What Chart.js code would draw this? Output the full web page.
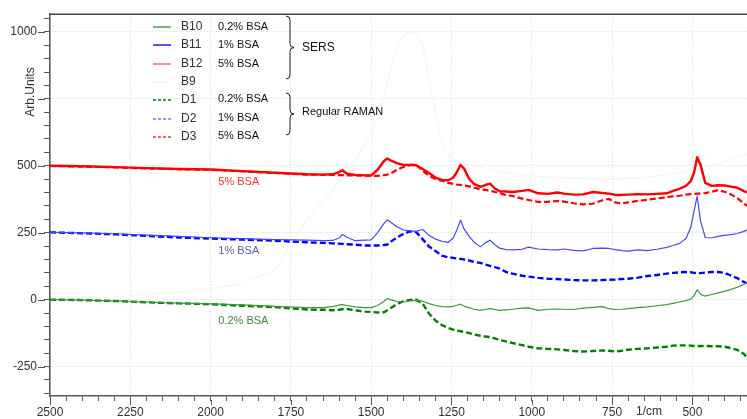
<!DOCTYPE html>
<html>
<head>
<meta charset="utf-8">
<script src="https://cdn.jsdelivr.net/npm/chart.js@4.4.1/dist/chart.umd.min.js"></script>
<style>
  html, body { margin: 0; padding: 0; background: #fff; }
  #wrap { width: 747px; height: 419px; position: relative; }
</style>
</head>
<body>
<div id="wrap"><canvas id="spectra"></canvas></div>
<script>
// Raman shift (1/cm)
const waveNumbers = [2500, 2400, 2300, 2200, 2100, 2000, 1900, 1800,
  1700, 1650, 1620, 1600, 1590, 1575, 1550, 1520, 1500, 1480,
  1460, 1450, 1440, 1420, 1400, 1380, 1360, 1340, 1320, 1300,
  1280, 1260, 1245, 1235, 1222, 1210, 1195, 1180, 1160, 1145,
  1130, 1115, 1100, 1080, 1060, 1030, 1010, 980, 950, 920,
  900, 870, 840, 810, 780, 760, 740, 720, 700, 670,
  640, 610, 580, 560, 540, 520, 505, 495, 485, 475,
  460, 440, 420, 400, 380, 360, 340, 330];

// SERS, 0.2% BSA
const b10 = [0, -2, -5, -9, -13, -16, -20, -25,
  -30, -30, -26, -20, -19, -22, -27, -30, -30, -22,
  -6, 4, 0, -7, -9, -5, -3, -6, -15, -22,
  -26, -27, -25, -22, -17, -25, -30, -36, -40, -37,
  -34, -37, -40, -38, -36, -32, -31, -40, -36, -35,
  -36, -37, -32, -29, -26, -34, -37, -36, -34, -30,
  -27, -23, -19, -14, -9, -4, 2, 15, 37, 20,
  13, 19, 25, 31, 38, 46, 57, 64];

// SERS, 1% BSA
const b11 = [251, 249, 246, 241, 236, 231, 228, 224,
  222, 220, 221, 230, 243, 233, 220, 222, 223, 250,
  285, 298, 290, 272, 260, 257, 255, 262, 240, 226,
  218, 214, 230, 255, 297, 262, 236, 215, 197, 212,
  222, 205, 192, 187, 186, 188, 196, 189, 187, 186,
  189, 184, 182, 191, 192, 191, 187, 183, 181, 186,
  183, 188, 195, 202, 210, 228, 270, 330, 387, 295,
  232, 231, 236, 240, 243, 247, 255, 260];

// SERS, 5% BSA
const b12 = [500, 498, 495, 491, 488, 486, 480, 474,
  468, 467, 468, 476, 483, 470, 466, 464, 464, 485,
  518, 527, 520, 510, 503, 503, 502, 488, 473, 456,
  447, 446, 455, 473, 503, 488, 451, 432, 421, 428,
  433, 415, 405, 404, 402, 406, 410, 397, 395, 400,
  396, 392, 393, 402, 398, 396, 391, 391, 392, 394,
  393, 395, 397, 406, 414, 425, 443, 474, 532, 505,
  436, 425, 427, 426, 422, 418, 405, 400];

// B9, the faint broad band
const b9 = [0, 5, 10, 20, 28, 40, 60, 110,
  300, 370, 410, 440, 455, 475, 520, 580, 620, 680,
  760, 810, 860, 940, 985, 1000, 990, 950, 830, 700,
  590, 540, 525, 520, 515, 510, 505, 500, 495, 490,
  486, 482, 478, 474, 470, 466, 463, 460, 458, 456,
  455, 454, 453, 452, 452, 452, 452, 452, 453, 455,
  458, 462, 466, 470, 474, 478, 482, 485, 488, 491,
  495, 500, 507, 515, 524, 533, 540, 543];

// Regular Raman, 0.2% BSA
const d1 = [0, -2, -5, -10, -14, -17, -23, -28,
  -37, -38, -40, -38, -36, -35, -40, -45, -46, -48,
  -47, -40, -32, -17, -6, -1, 0, -15, -52, -78,
  -95, -106, -112, -115, -118, -121, -125, -130, -135, -138,
  -140, -145, -151, -156, -162, -170, -176, -182, -184, -186,
  -188, -192, -194, -192, -190, -191, -194, -191, -187, -184,
  -182, -179, -176, -172, -171, -171, -172, -173, -173, -173,
  -173, -174, -174, -176, -181, -188, -203, -215];

// Regular Raman, 1% BSA
const d2 = [251, 248, 244, 238, 232, 228, 224, 220,
  214, 212, 210, 209, 208, 207, 205, 202, 202, 202,
  204, 206, 215, 232, 245, 255, 252, 226, 198, 182,
  164, 158, 156, 154, 152, 150, 146, 141, 137, 131,
  126, 121, 116, 103, 97, 89, 86, 81, 78, 77,
  75, 73, 72, 72, 73, 74, 75, 77, 78, 82,
  88, 92, 97, 100, 102, 103, 102, 100, 99, 99,
  101, 103, 103, 100, 90, 80, 66, 60];

// Regular Raman, 5% BSA
const d3 = [499, 497, 494, 490, 487, 485, 479, 473,
  467, 466, 466, 465, 465, 464, 464, 463, 462, 462,
  465, 467, 470, 485, 495, 503, 503, 482, 462, 450,
  444, 436, 432, 430, 428, 426, 423, 418, 412, 410,
  407, 402, 398, 390, 387, 377, 372, 365, 365, 368,
  366, 360, 356, 358, 371, 376, 363, 359, 363, 369,
  373, 378, 382, 386, 388, 392, 394, 395, 396, 396,
  398, 403, 409, 403, 393, 379, 360, 350];

const legendNotes = ['0.2% BSA', '1% BSA', '5% BSA', '', '0.2% BSA', '1% BSA', '5% BSA'];
const legendSwatches = ['#4aa04a', '#1a1aff', '#ff6a6a', '#f6f6f6', '#008000', '#7a7aff', '#ff3030'];
const yLabelled = [1000, 500, 250, 0, -250];
const curveLabels = ['5% BSA', '1% BSA', '0.2% BSA'];
const curveLabelLevels = [441, 183, -80];

const FONT = "'Liberation Sans', Arial, sans-serif";
const toPoints = arr => arr.map((v, i) => ({ x: waveNumbers[i], y: v }));
const isMajor = v => v % 250 === 0;

function drawBrace(ctx, x, top, bottom) {
    const mid = (top + bottom) / 2;
    const r = 4;
    ctx.beginPath();
    ctx.moveTo(x, top);
    ctx.quadraticCurveTo(x + r, top, x + r, top + r);
    ctx.lineTo(x + r, mid - r);
    ctx.quadraticCurveTo(x + r, mid, x + 2 * r, mid);
    ctx.quadraticCurveTo(x + r, mid, x + r, mid + r);
    ctx.lineTo(x + r, bottom - r);
    ctx.quadraticCurveTo(x + r, bottom, x, bottom);
    ctx.stroke();
}

const extras = {
    id: 'extras',
    afterDraw(chart) {
        const { ctx, chartArea: area, scales: { x, y } } = chart;
        ctx.save();

        // top frame
        ctx.strokeStyle = '#444';
        ctx.lineWidth = 1.5;
        ctx.beginPath();
        ctx.moveTo(area.left, area.top);
        ctx.lineTo(area.right, area.top);
        ctx.stroke();

        // longer marks on the labelled ticks
        ctx.strokeStyle = '#555';
        ctx.lineWidth = 1;
        y.ticks.forEach(t => {
            if (!isMajor(t.value)) return;
            const py = Math.round(y.getPixelForValue(t.value)) + 0.5;
            ctx.beginPath();
            ctx.moveTo(area.left - 12, py);
            ctx.lineTo(area.left - 5, py);
            ctx.stroke();
        });
        x.ticks.forEach(t => {
            if (!isMajor(t.value)) return;
            const px = Math.round(x.getPixelForValue(t.value)) + 0.5;
            ctx.beginPath();
            ctx.moveTo(px, area.bottom + 4);
            ctx.lineTo(px, area.bottom + 9);
            ctx.stroke();
        });

        // axis titles
        ctx.fillStyle = '#333';
        ctx.font = '12px ' + FONT;
        ctx.textAlign = 'center';
        ctx.textBaseline = 'middle';
        ctx.fillText('1/cm', x.getPixelForValue(635), area.bottom + 16);
        ctx.save();
        ctx.translate(31, 92);
        ctx.rotate(-Math.PI / 2);
        ctx.fillText('Arb.Units', 0, 0);
        ctx.restore();

        // labels next to the curves
        const labelColors = ['#ff3030', '#5a5ab4', '#3a8a3a'];
        ctx.font = '11px ' + FONT;
        ctx.textAlign = 'left';
        curveLabels.forEach((txt, i) => {
            ctx.fillStyle = labelColors[i];
            ctx.fillText(txt, x.getPixelForValue(1976), y.getPixelForValue(curveLabelLevels[i]));
        });

        // legend block
        const rowTop = 27, rowStep = 18.3;
        chart.data.datasets.forEach((ds, i) => {
            const ry = Math.round(rowTop + i * rowStep);
            ctx.strokeStyle = legendSwatches[i];
            ctx.lineWidth = 1.5;
            ctx.setLineDash(ds.borderDash ? [3, 2] : []);
            ctx.beginPath();
            ctx.moveTo(153, ry);
            ctx.lineTo(171, ry);
            ctx.stroke();
            ctx.setLineDash([]);
            ctx.fillStyle = '#333';
            ctx.font = '12px ' + FONT;
            ctx.fillText(ds.label, 181, ry);
            if (legendNotes[i]) {
                ctx.fillStyle = '#111';
                ctx.font = '11px ' + FONT;
                ctx.fillText(legendNotes[i], 218, ry - (i > 3 ? 1.5 : 0));
            }
        });

        ctx.strokeStyle = '#222';
        ctx.lineWidth = 1;
        drawBrace(ctx, 286, 16, 79);
        drawBrace(ctx, 286, 93, 135);
        ctx.fillStyle = '#111';
        ctx.font = '12px ' + FONT;
        ctx.fillText('SERS', 302, 48);
        ctx.font = '11px ' + FONT;
        ctx.fillText('Regular RAMAN', 302, 112);

        ctx.restore();
    }
};

function axisOptions(min, max, tickLen, pad, labelled) {
    return {
        type: 'linear',
        min: min,
        max: max,
        ticks: {
            stepSize: 50,
            autoSkip: false,
            includeBounds: false,
            maxRotation: 0,
            padding: pad,
            color: '#333',
            font: { size: 12, family: FONT },
            callback: v => labelled(v) ? String(v) : ''
        },
        grid: {
            color: c => (c.tick && isMajor(c.tick.value)) ? '#d6d6d6' : 'rgba(0,0,0,0)',
            lineWidth: 1,
            tickColor: '#555',
            tickLength: tickLen
        },
        border: { color: '#555', width: 1.5, dash: [1, 2] }
    };
}

const xAxis = axisOptions(330, 2500, 5, 4, isMajor);
xAxis.reverse = true;
xAxis.afterFit = s => { s.height = 23; };
const yAxis = axisOptions(-360, 1066, 6, 7, v => yLabelled.includes(v));
yAxis.afterFit = s => { s.width = 50; };

new Chart(document.getElementById('spectra').getContext('2d'), {
    type: 'line',
    data: {
        datasets: [
            { label: 'B10', data: toPoints(b10), borderColor: '#3c9a3c', borderWidth: 1.2 },
            { label: 'B11', data: toPoints(b11), borderColor: '#4646ff', borderWidth: 1.2 },
            { label: 'B12', data: toPoints(b12), borderColor: '#ff0000', borderWidth: 2.4 },
            { label: 'B9', data: toPoints(b9), borderColor: '#f7f4f4', borderWidth: 1.2, order: 10 },
            { label: 'D1', data: toPoints(d1), borderColor: '#008000', borderWidth: 2.4, borderDash: [6, 3] },
            { label: 'D2', data: toPoints(d2), borderColor: '#0000ff', borderWidth: 2.4, borderDash: [6, 3] },
            { label: 'D3', data: toPoints(d3), borderColor: '#ff0000', borderWidth: 2.2, borderDash: [6, 3] }
        ]
    },
    options: {
        responsive: true,
        maintainAspectRatio: false,
        animation: false,
        layout: { padding: { top: 12, right: 0, bottom: 0, left: 0 } },
        elements: { point: { radius: 0 }, line: { tension: 0, borderJoinStyle: 'round' } },
        plugins: { legend: { display: false }, tooltip: { enabled: false } },
        scales: { x: xAxis, y: yAxis }
    },
    plugins: [extras]
});
</script>
</body>
</html>
